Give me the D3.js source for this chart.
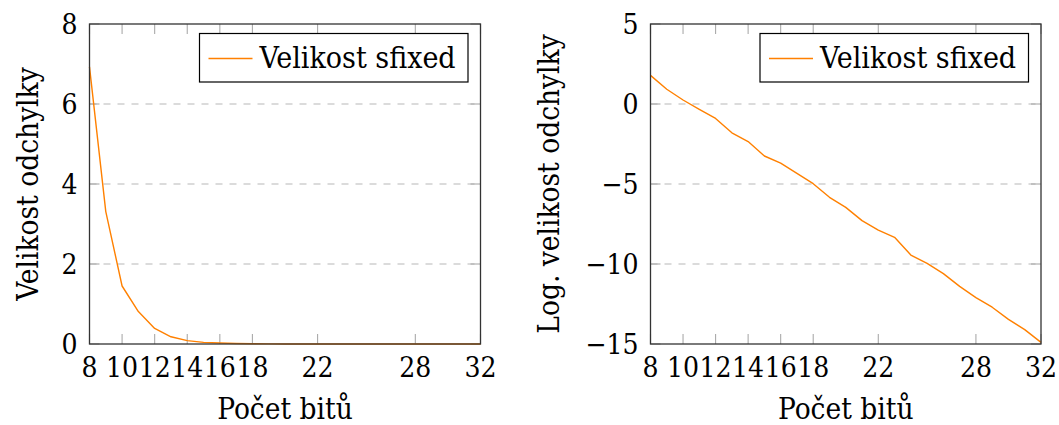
<!DOCTYPE html>
<html><head><meta charset="utf-8">
<script src="https://cdn.jsdelivr.net/npm/d3@7"></script>
<style>
body{margin:0;background:#fff;}
</style></head>
<body><svg id="c" width="1059" height="425"></svg>
<script>
const bits = [8,9,10,11,12,13,14,15,16,17,18,19,20,21,22,23,24,25,26,27,28,29,30,31,32];
const errValues = [6.93,3.31,1.45,0.81,0.39,0.18,0.085,0.04,0.025,0.013,0.007,0.003,0.0016,0.0007,0.0004,0.0002,0.0001,0.00005,0.00003,0.00001,0.000006,0.000003,0.000001,0.0000008,0.0000004];
const logErrValues = [1.79,0.92,0.25,-0.33,-0.9,-1.8,-2.35,-3.25,-3.7,-4.33,-4.98,-5.83,-6.46,-7.29,-7.88,-8.33,-9.44,-9.96,-10.6,-11.4,-12.1,-12.7,-13.46,-14.1,-14.9];
const xTicks = [8,10,12,14,16,18,22,28,32];
const yTicksLeft = [0,2,4,6,8];
const yTicksRight = [-15,-10,-5,0,5];
const seriesName = "Velikost sfixed";
const xLabel = "Počet bitů";
const yLabelLeft = "Velikost odchylky";
const yLabelRight = "Log. velikost odchylky";

const svg = d3.select("#c");
const FS_TICK = 28, FS_LAB = 29.5, FS_LEG = 30;
const FF = "'DejaVu Serif Condensed', 'DejaVu Serif', serif";
const orange = "#ff8000";

function txt(g, fs){ return g.append("text").attr("font-family",FF).attr("font-stretch","condensed").attr("font-size",fs).attr("fill","#000"); }

function panel(x0, x1, yDomain, yTicks, values, yLabel, yLabelX){
  const top = 24, bottom = 344;
  const x = d3.scaleLinear().domain([8,32]).range([x0,x1]);
  const y = d3.scaleLinear().domain(yDomain).range([bottom,top]);
  const g = svg.append("g");
  g.selectAll(".grid").data(yTicks.filter(t=>t!==yDomain[0]&&t!==yDomain[1])).enter()
    .append("line").attr("x1",x0).attr("x2",x1).attr("y1",d=>y(d)).attr("y2",d=>y(d))
    .attr("stroke","#b8b8b8").attr("stroke-width",1.1).attr("stroke-dasharray","7,7");
  const tl = 10;
  xTicks.forEach(t=>{
    g.append("line").attr("x1",x(t)).attr("x2",x(t)).attr("y1",bottom).attr("y2",bottom-tl).attr("stroke","#aaa").attr("stroke-width",1.1);
    g.append("line").attr("x1",x(t)).attr("x2",x(t)).attr("y1",top).attr("y2",top+tl).attr("stroke","#aaa").attr("stroke-width",1.1);
  });
  yTicks.forEach(t=>{
    g.append("line").attr("x1",x0).attr("x2",x0+tl).attr("y1",y(t)).attr("y2",y(t)).attr("stroke","#aaa").attr("stroke-width",1.1);
    g.append("line").attr("x1",x1).attr("x2",x1-tl).attr("y1",y(t)).attr("y2",y(t)).attr("stroke","#aaa").attr("stroke-width",1.1);
  });
  const line = d3.line().x((d,i)=>x(bits[i])).y(d=>y(d));
  g.append("path").datum(values).attr("d",line).attr("fill","none").attr("stroke",orange).attr("stroke-width",1.4).attr("stroke-linejoin","round");
  g.append("rect").attr("x",x0).attr("y",top).attr("width",x1-x0).attr("height",bottom-top)
    .attr("fill","none").attr("stroke","#333").attr("stroke-width",1.3);
  xTicks.forEach(t=>{
    txt(g,FS_TICK).attr("x",x(t)).attr("y",377).attr("text-anchor","middle").text(String(t));
  });
  yTicks.forEach(t=>{
    txt(g,FS_TICK).attr("x",x0-12).attr("y",y(t)+10).attr("text-anchor","end")
      .text(t<0 ? "\u2212"+Math.abs(t) : String(t));
  });
  txt(g,FS_LAB).attr("x",(x0+x1)/2).attr("y",419).attr("text-anchor","middle").text(xLabel);
  txt(g,FS_LAB).attr("transform",`translate(${yLabelX},${(top+bottom)/2}) rotate(-90)`)
    .attr("text-anchor","middle").text(yLabel);
  const lx0 = x1 - 281, lx1 = x1 - 12.5, ly0 = 33.5, ly1 = 82;
  g.append("rect").attr("x",lx0).attr("y",ly0).attr("width",lx1-lx0).attr("height",ly1-ly0)
    .attr("fill","#fff").attr("stroke","#000").attr("stroke-width",1.2);
  g.append("line").attr("x1",lx0+9).attr("x2",lx0+53).attr("y1",58.5).attr("y2",58.5).attr("stroke",orange).attr("stroke-width",1.4);
  txt(g,FS_LEG).attr("x",lx0+60).attr("y",68).text(seriesName);
}

panel(89.5, 480.5, [0,8], yTicksLeft, errValues, yLabelLeft, 38);
panel(650.5, 1041, [-15,5], yTicksRight, logErrValues, yLabelRight, 559);
</script></body></html>
